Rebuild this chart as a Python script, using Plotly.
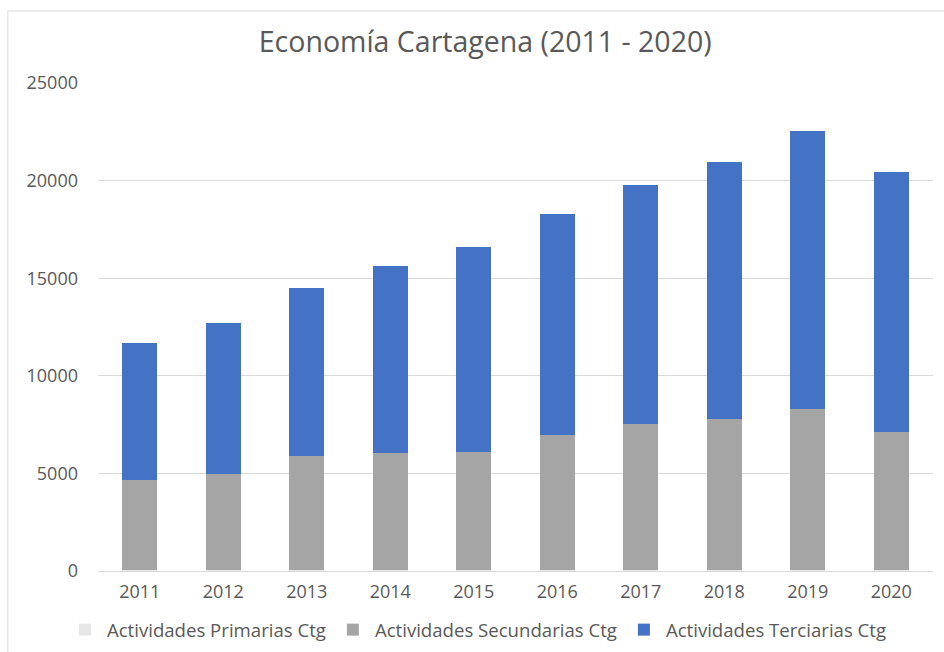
import plotly.graph_objects as go

years = ["2011", "2012", "2013", "2014", "2015", "2016", "2017", "2018", "2019", "2020"]
primarias = [40, 40, 40, 40, 40, 40, 40, 40, 40, 40]
secundarias = [4610, 4930, 5865, 5990, 6040, 6945, 7475, 7750, 8275, 7095]
terciarias = [7030, 7735, 8595, 9590, 10520, 11315, 12275, 13180, 14225, 13305]

font_family = "Open Sans"
text_color = "#595959"

fig = go.Figure()
fig.add_trace(go.Bar(x=years, y=primarias, name="Actividades Primarias Ctg",
                     marker=dict(color="#e7e6e6", line=dict(width=0))))
fig.add_trace(go.Bar(x=years, y=secundarias, name="Actividades Secundarias Ctg",
                     marker=dict(color="#a5a5a5", line=dict(width=0))))
fig.add_trace(go.Bar(x=years, y=terciarias, name="Actividades Terciarias Ctg",
                     marker=dict(color="#4472c4", line=dict(width=0))))

fig.update_layout(
    barmode="stack",
    bargap=0.58,
    width=944, height=652,
    margin=dict(l=98, r=11, t=83, b=81, autoexpand=False),
    paper_bgcolor="white", plot_bgcolor="white",
    font=dict(family=font_family, color=text_color, size=18),
    title=dict(text="Economía Cartagena (2011 - 2020)", x=0.514, xanchor="center",
               y=0.936, yanchor="middle", xref="container",
               font=dict(size=28.5, color=text_color)),
    legend=dict(orientation="h", x=-0.042, xanchor="left", y=-0.121, yanchor="middle",
                font=dict(size=18.6, color=text_color), traceorder="normal",
                itemwidth=34, bgcolor="rgba(0,0,0,0)"),
    showlegend=True,
)
fig.update_xaxes(showgrid=False, showline=True, linecolor="#d9d9d9", linewidth=1,
                 ticks="", ticklabelstandoff=4, tickfont=dict(size=18, color=text_color))
fig.update_yaxes(range=[0, 25000], dtick=5000, tickformat="d", showgrid=True,
                 gridcolor="#d9d9d9", gridwidth=1, zeroline=False, showline=False,
                 ticks="", ticklabelstandoff=19, tickfont=dict(size=18, color=text_color))

fig.add_shape(type="rect", xref="paper", yref="paper",
              x0=-0.108, x1=1.05, y0=-0.25, y1=1.1475,
              line=dict(color="#d9d9d9", width=1), fillcolor="rgba(0,0,0,0)",
              layer="below")

fig.write_html("out.html", config={"displayModeBar": False},
               post_script="document.body.style.margin='0';document.body.style.padding='0';")
